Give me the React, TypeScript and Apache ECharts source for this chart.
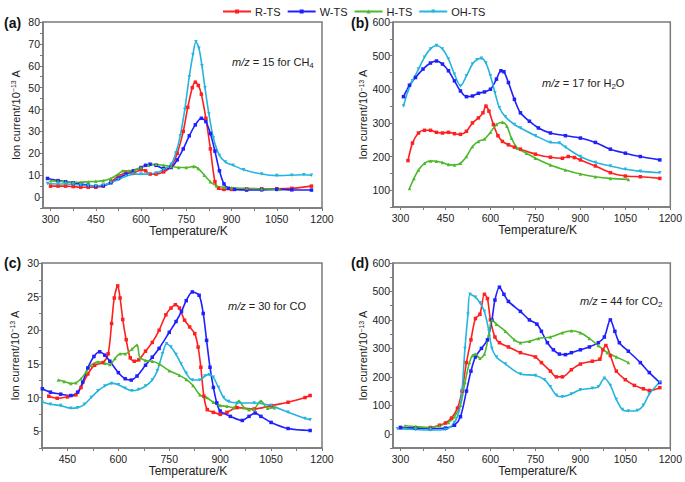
import React, { useEffect, useRef } from "react";
import * as echarts from "echarts";

// ---------- Data (Temperature / K, Ion current / 1e-13 A) ----------
const seriesNames = ["R-TS", "W-TS", "H-TS", "OH-TS"];
const seriesColors = ["#ff1f1f", "#1f1fff", "#4fb82a", "#25b4de"];

// (a) m/z = 15 CH4
const aR_T = [300,325,350,375,400,425,450,475,500,525,550,575,600,615,630,650,675,700,720,740,755,770,780,790,800,815,830,845,857,875,900,950,1000,1050,1100,1165];
const aR_V = [5,5,5,4.8,4.5,4.5,4.5,5,7,9.5,11,11,12.5,12,10.5,10.5,11.5,14,20,30,41,50,52.5,51,47,36,22,7,4,3.5,3.5,3.7,3.8,3.8,4,5];
const aW_T = [290,325,350,375,400,425,450,475,500,525,550,575,600,615,630,650,675,700,720,740,760,780,800,815,830,845,860,875,890,910,950,1000,1050,1100,1165];
const aW_V = [8.5,7.5,7,6.5,6,5.5,5,5.2,6.5,8.5,10.5,12,13.5,14.5,15,14.5,13,13.5,17,22,28,33,36,34.5,29,21,12,6,4,3.5,3.2,3.3,3.5,3.3,3.2];
const aH_T = [300,325,350,375,400,425,450,475,500,525,540,560,580,600,625,650,675,700,725,750,775,790,810,830,850,875,900,950,1000,1060];
const aH_V = [7.5,7.2,7,6.8,6.8,7,7.2,7.5,8.5,10.5,12,12,12.5,13.5,14.5,15,14.5,14,13.5,13.5,14,13,10,7,5,4.5,4.2,4,3.8,3.6];
const aO_T = [290,325,350,375,400,425,450,475,500,525,550,575,600,625,650,675,700,715,730,745,760,772,782,792,802,812,825,840,860,880,905,940,1000,1050,1100,1140,1165];
const aO_V = [6.2,6,6,5.8,5.5,5.2,5,5.5,6.5,8,9.5,10.5,10.5,10.5,11,12.5,15,20,28,40,55,65,71,68,60,50,38,27,19,16,14.5,12.5,10.5,9.8,10,10.2,10];

// (b) m/z = 17 H2O
const bR_T = [325,340,360,380,400,420,440,460,480,500,520,540,560,575,585,595,610,625,640,660,680,700,750,800,840,860,880,900,950,1000,1050,1100,1165];
const bR_V = [188,240,270,278,278,272,270,272,268,266,275,300,315,330,350,335,295,262,245,235,228,222,207,198,195,200,197,190,172,152,142,140,135];
const bW_T = [310,330,350,375,400,420,440,460,480,500,520,540,560,580,600,620,635,645,660,680,700,730,760,800,850,900,950,1000,1050,1100,1165];
const bW_V = [378,412,435,460,478,484,475,455,425,395,378,380,388,392,400,430,455,452,420,370,330,305,285,270,262,255,242,222,210,200,190];
const bH_T = [330,345,360,380,400,420,440,460,480,500,520,540,560,580,600,620,640,655,670,690,720,750,800,850,900,950,1000,1060];
const bH_V = [105,135,160,180,187,186,182,176,175,180,200,230,245,252,272,295,302,290,255,225,210,195,175,160,148,140,135,132];
const bO_T = [310,325,340,360,380,400,420,440,460,480,500,520,540,555,570,585,600,615,630,650,680,700,750,800,830,850,900,950,1000,1050,1100,1165];
const bO_V = [350,395,425,460,495,520,530,520,490,445,410,440,475,488,492,478,440,390,345,318,295,285,262,242,240,228,200,182,172,162,156,152];

// (c) m/z = 30 CO
const cR_T = [395,420,450,475,490,510,530,555,570,580,588,598,605,613,623,635,647,660,680,700,720,740,755,768,780,795,810,825,835,843,852,862,880,900,920,950,1000,1050,1100,1150,1165];
const cR_V = [10.2,9.9,10.1,10.4,11.5,13.5,14.8,15.2,16.5,21,24.8,26.6,24.8,21.6,18.6,15.9,15.4,15.6,16.9,18.2,20,22.3,23.3,23.8,23.3,21.5,20.5,19.5,17.5,14.5,10.2,8.2,7.8,7.5,7.8,8.5,8.3,8.8,9.3,10,10.3];
const cW_T = [376,400,430,460,480,495,510,528,545,560,575,600,620,638,655,680,700,720,750,770,786,800,818,838,850,860,870,880,890,900,930,965,985,1003,1020,1050,1100,1165];
const cW_V = [11.3,10.8,10.5,10.3,10.8,12.3,14.4,16.1,16.8,16.3,15.4,13.7,12.8,12.6,13.2,14.8,16,17.3,19.7,21.3,22.8,24.4,25.7,25.2,22.5,18.5,14.5,11.5,9.2,8,7.2,6.6,7.2,7.7,7.2,6.3,5.4,5.1];
const cH_T = [423,440,460,475,490,505,520,540,560,575,590,605,620,640,655,663,680,700,720,750,780,800,820,840,860,880,900,920,940,955,970,985,1000,1020,1040,1060];
const cH_V = [12.6,12.4,12.1,12.2,12.8,13.8,14.8,15.3,15.1,14.9,15.8,16.5,16.5,17.2,17.8,16,15.5,15.4,15,14,13.3,12.7,11.8,10.4,10,9.3,8.8,8.7,8.5,9.5,8.5,8.2,8.3,9.5,8.4,8.5];
const cO_T = [376,400,430,460,480,500,520,540,560,580,600,620,640,660,680,700,715,730,742,755,770,785,800,818,840,855,868,880,895,910,925,950,1000,1050,1100,1150,1165];
const cO_V = [9.3,9.0,8.8,8.4,8.5,9,10,11,11.7,12.1,11.9,11.4,11,11.2,11.7,12.6,14,16.5,18,17.5,16.4,15,13.6,12.6,12.6,13.2,13.4,13,11.5,10,9.4,9.2,9.2,8.8,7.8,6.9,6.7];

// (d) m/z = 44 CO2
const dR_T = [300,350,400,430,450,470,490,505,520,535,550,565,580,590,600,615,630,660,700,750,770,800,820,840,870,900,940,965,975,985,1000,1020,1050,1080,1110,1130,1165];
const dR_V = [22,20,22,30,38,55,90,150,250,330,405,420,490,475,400,340,320,305,285,270,250,220,200,200,225,245,255,262,295,310,275,220,190,170,158,152,162];
const dW_T = [300,350,400,450,480,500,520,535,550,570,590,605,615,630,645,660,700,730,755,770,790,810,830,850,870,900,930,960,980,1000,1015,1030,1060,1100,1130,1165];
const dW_V = [22,20,18,20,30,60,150,220,270,300,330,400,470,515,490,465,430,400,385,360,320,295,280,278,285,295,305,320,340,400,360,320,290,250,215,180];
const dH_T = [315,350,400,430,460,480,500,515,530,540,550,565,580,595,605,620,650,680,700,730,760,800,840,870,900,930,960,990,1020,1060];
const dH_V = [28,25,22,28,40,60,100,180,250,275,280,265,280,350,400,385,360,330,320,325,335,340,355,362,355,335,310,285,270,250];
const dO_T = [290,350,400,450,480,495,505,515,525,532,550,565,580,595,605,620,650,700,750,780,800,820,840,870,900,940,960,980,1000,1020,1040,1060,1090,1110,1130,1165];
const dO_V = [18,15,13,15,40,80,150,300,420,490,480,460,430,360,300,270,245,210,205,190,165,135,130,140,155,160,165,195,170,120,85,80,82,100,140,182];

// Axis tick labels
const xLabelsFull = [300, 450, 600, 750, 900, 1050, 1200];
const xLabelsC = [450, 600, 750, 900, 1050, 1200];
const yLabelsA = [0, 10, 20, 30, 40, 50, 60, 70, 80];
const yLabelsB = [100, 200, 300, 400, 500, 600];
const yLabelsC = [5, 10, 15, 20, 25, 30];
const yLabelsD = [0, 100, 200, 300, 400, 500, 600];

const panelLabels = ["(a)", "(b)", "(c)", "(d)"];

const pairs = (t: number[], v: number[]) => t.map((x, i) => [x, v[i]]);
const ticksBetween = (labels: number[], lo: number) => {
  const out: number[] = [];
  const step = (labels[1] - labels[0]) / 2;
  for (let v = labels[0] - step; v <= labels[labels.length - 1] + 1e-9; v += step) {
    if (v >= lo - 1e-9) out.push(Math.round(v * 1000) / 1000);
  }
  return out;
};

const FONT = "'Liberation Sans', Arial, Helvetica, sans-serif";
const AXIS_COLOR = "#7a7a7a";
const TEXT_COLOR = "#222";

export default function App() {
  const ref = useRef<HTMLDivElement>(null);
  useEffect(() => {
    if (!ref.current) return;
    const chart = echarts.init(ref.current, null, { renderer: "svg" });

    const grids = [
      { left: 43, top: 22, width: 279, height: 186 },
      { left: 393, top: 22, width: 280, height: 185 },
      { left: 42, top: 263, width: 280, height: 185 },
      { left: 393, top: 263, width: 280, height: 185 },
    ];
    const xCfg = [
      { min: 275, max: 1200, labels: xLabelsFull },
      { min: 275, max: 1200, labels: xLabelsFull },
      { min: 375, max: 1200, labels: xLabelsC },
      { min: 275, max: 1200, labels: xLabelsFull },
    ];
    const yCfg = [
      { min: -5, max: 80, labels: yLabelsA },
      { min: 50, max: 600, labels: yLabelsB },
      { min: 2.5, max: 30, labels: yLabelsC },
      { min: -50, max: 600, labels: yLabelsD },
    ];

    const xAxis = xCfg.map((c, i) => ({
      type: "value",
      gridIndex: i,
      min: c.min,
      max: c.max,
      name: "Temperature/K",
      nameLocation: "middle",
      nameGap: 15,
      nameTextStyle: { fontFamily: FONT, fontSize: 12, color: TEXT_COLOR, padding: [0, 0, 0, 12] },
      axisLine: { show: true, onZero: false, lineStyle: { color: AXIS_COLOR, width: 1.5 } },
      axisTick: { show: true, inside: false, length: 3, customValues: ticksBetween(c.labels, c.min), lineStyle: { color: AXIS_COLOR, width: 1 } },
      axisLabel: { customValues: c.labels, formatter: (v: number) => String(v), fontFamily: FONT, fontSize: 10.5, color: TEXT_COLOR, margin: 5 },
      splitLine: { show: false },
    }));
    const yAxis = yCfg.map((c, i) => ({
      type: "value",
      gridIndex: i,
      min: c.min,
      max: c.max,
      name: "Ion current/10{sup|−13} A",
      nameLocation: "middle",
      nameGap: 22,
      nameRotate: 90,
      nameTextStyle: {
        fontFamily: FONT,
        fontSize: 11,
        color: TEXT_COLOR,
        rich: { sup: { fontFamily: FONT, fontSize: 7, color: TEXT_COLOR, verticalAlign: "top", lineHeight: 10 } },
      },
      axisLine: { show: true, onZero: false, lineStyle: { color: AXIS_COLOR, width: 1.5 } },
      axisTick: { show: true, inside: false, length: 3, customValues: ticksBetween(c.labels, c.min), lineStyle: { color: AXIS_COLOR, width: 1 } },
      axisLabel: { customValues: c.labels, formatter: (v: number) => String(v), fontFamily: FONT, fontSize: 10.5, color: TEXT_COLOR, margin: 3 },
      splitLine: { show: false },
    }));

    const panelData = [
      [pairs(aR_T, aR_V), pairs(aW_T, aW_V), pairs(aH_T, aH_V), pairs(aO_T, aO_V)],
      [pairs(bR_T, bR_V), pairs(bW_T, bW_V), pairs(bH_T, bH_V), pairs(bO_T, bO_V)],
      [pairs(cR_T, cR_V), pairs(cW_T, cW_V), pairs(cH_T, cH_V), pairs(cO_T, cO_V)],
      [pairs(dR_T, dR_V), pairs(dW_T, dW_V), pairs(dH_T, dH_V), pairs(dO_T, dO_V)],
    ];
    const symbols = ["rect", "rect", "triangle", "triangle"];
    const rotates = [0, 0, 0, 180];

    const series: any[] = [];
    panelData.forEach((sets, p) => {
      sets.forEach((d, s) => {
        series.push({
          type: "line",
          name: seriesNames[s],
          xAxisIndex: p,
          yAxisIndex: p,
          data: d,
          smooth: 0.3,
          symbol: symbols[s],
          symbolRotate: rotates[s],
          symbolSize: 3.5,
          showAllSymbol: true,
          lineStyle: { color: seriesColors[s], width: 1.6 },
          itemStyle: { color: seriesColors[s] },
          emphasis: { disabled: true },
        });
      });
    });

    const italic = { fontFamily: FONT, fontSize: 11, fontStyle: "italic", fill: TEXT_COLOR, lineHeight: 14 };
    const normal = { fontFamily: FONT, fontSize: 11, fill: TEXT_COLOR, lineHeight: 14 };
    const sub = { fontFamily: FONT, fontSize: 8, fill: TEXT_COLOR, verticalAlign: "bottom", lineHeight: 14 };
    const annot = (x: number, y: number, txt: string) => ({
      type: "text",
      x,
      y,
      style: {
        text: txt,
        fontFamily: FONT,
        fontSize: 11,
        fill: TEXT_COLOR,
        verticalAlign: "middle",
        rich: { i: italic, n: normal, s: sub },
      },
    });

    const labelPos = [
      [4, 23],
      [351, 23],
      [4, 263],
      [351, 263],
    ];

    const graphic: any[] = [
      ...panelLabels.map((t, i) => ({
        type: "text",
        x: labelPos[i][0],
        y: labelPos[i][1],
        style: { text: t, fontFamily: FONT, fontSize: 14, fontWeight: "bold", fill: "#111", verticalAlign: "middle" },
      })),
      annot(232, 62, "{i|m/z}{n| = 15 for CH}{s|4}"),
      annot(542, 83, "{i|m/z}{n| = 17 for H}{s|2}{n|O}"),
      annot(228, 306, "{i|m/z}{n| = 30 for CO}"),
      annot(580, 301, "{i|m/z}{n| = 44 for CO}{s|2}"),
    ];

    chart.setOption({
      animation: false,
      backgroundColor: "#ffffff",
      legend: {
        data: seriesNames,
        left: 217,
        top: 1,
        itemWidth: 28,
        itemHeight: 5,
        itemGap: 6,
        textStyle: { fontFamily: FONT, fontSize: 11, color: TEXT_COLOR, padding: [0, 0, 0, -1] },
        selectedMode: false,
      },
      grid: grids.map((g) => ({ ...g, show: true, borderColor: AXIS_COLOR, borderWidth: 1.5, backgroundColor: "transparent" })),
      xAxis,
      yAxis,
      series,
      graphic,
    } as any);

    return () => chart.dispose();
  }, []);

  return (
    <div
      ref={ref}
      style={{ position: "absolute", left: 0, top: 0, width: 685, height: 482, background: "#fff" }}
    />
  );
}
